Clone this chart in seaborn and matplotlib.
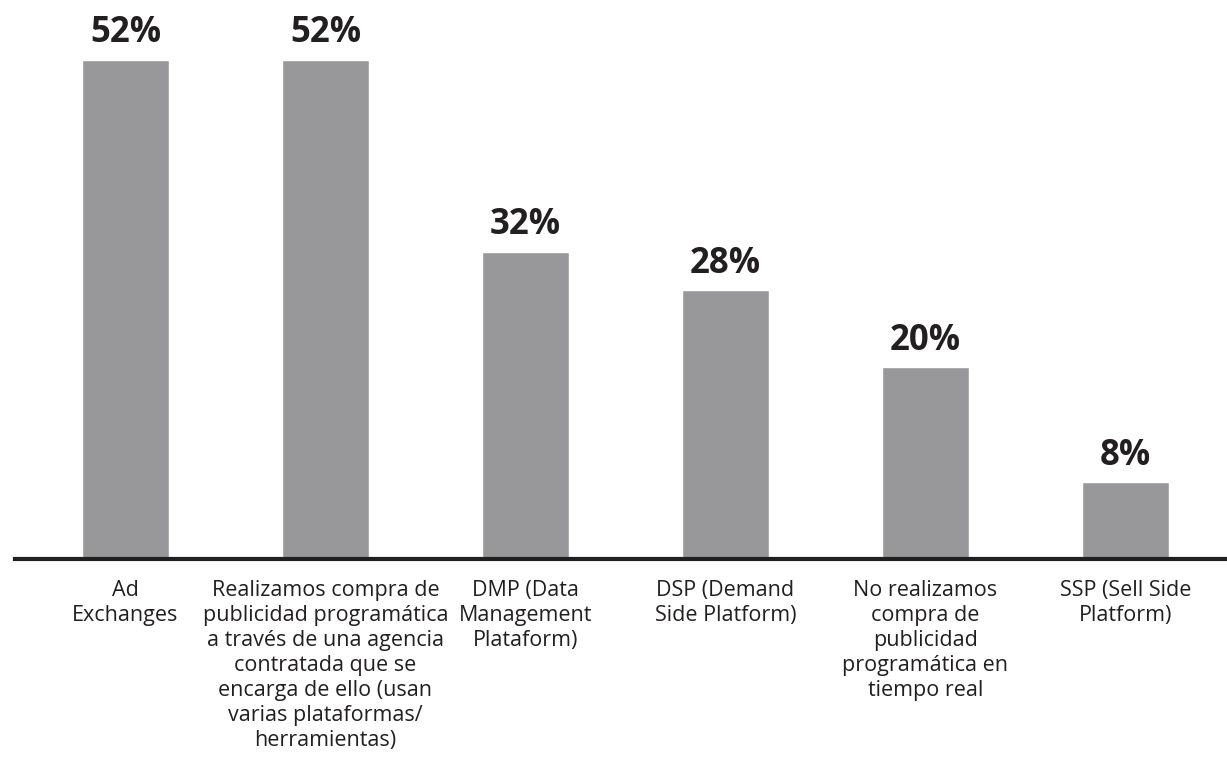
import matplotlib
matplotlib.use("Agg")
import matplotlib.pyplot as plt
import seaborn as sns
import pandas as pd

categories = [
    "Ad\nExchanges",
    "Realizamos compra de\npublicidad programática\na través de una agencia\ncontratada que se\nencarga de ello (usan\nvarias plataformas/\nherramientas)",
    "DMP (Data\nManagement\nPlataform)",
    "DSP (Demand\nSide Platform)",
    "No realizamos\ncompra de\npublicidad\nprogramática en\ntiempo real",
    "SSP (Sell Side\nPlatform)",
]
values = [52, 52, 32, 28, 20, 8]
value_labels = ["52%", "52%", "32%", "28%", "20%", "8%"]

sns.set_theme(style="white")
plt.rcParams["font.family"] = ["Open Sans", "DejaVu Sans"]

TEXT = "#231F20"
BAR = "#98989A"

df = pd.DataFrame({"cat": categories, "val": values})

fig = plt.figure(figsize=(12.27, 7.6), dpi=100)
ax = fig.add_axes([15 / 1227, 1 - 559 / 760, 1 - 15 / 1227, 559 / 760])

sns.barplot(data=df, x="cat", y="val", color=BAR, saturation=1, width=0.435, ax=ax)

for i, (v, lab) in enumerate(zip(values, value_labels)):
    ax.annotate(lab, (i, v), xytext=(0, 6), textcoords="offset points",
                ha="center", va="bottom", fontsize=25, fontweight="bold", color=TEXT)

ax.set_xlim(-0.5525, 5.5075)
ax.set_ylim(0, 58.2)
ax.set_xlabel("")
ax.set_ylabel("")
ax.set_yticks([])
for s in ["top", "right", "left"]:
    ax.spines[s].set_visible(False)
ax.spines["bottom"].set_color(TEXT)
ax.spines["bottom"].set_linewidth(3)
ax.tick_params(axis="x", length=0, pad=15, labelsize=15.5, labelcolor=TEXT)
for t in ax.get_xticklabels():
    t.set_linespacing(1.25)
    t.set_multialignment("center")

fig.savefig("out.png", dpi=100, facecolor="white")
